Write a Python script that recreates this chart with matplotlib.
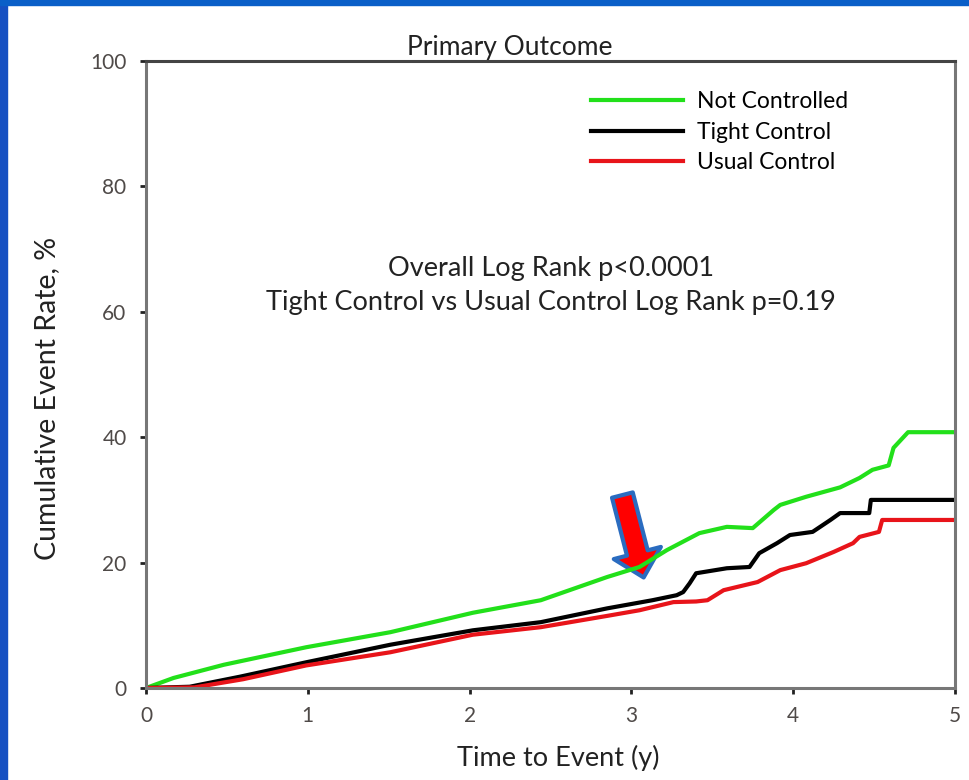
import matplotlib
matplotlib.use('Agg')
import matplotlib.pyplot as plt
from matplotlib.patches import Rectangle, FancyArrowPatch

# Kaplan-Meier style cumulative event curves (years, %)
t_not = [0, 0.17, 0.48, 0.99, 1.51, 2.02, 2.44, 2.85, 3.05, 3.22, 3.42, 3.59, 3.75, 3.88,
         3.92, 4.08, 4.29, 4.41, 4.49, 4.59, 4.62, 4.71, 5.0]
y_not = [0, 1.6, 3.7, 6.5, 8.9, 12.0, 14.0, 17.7, 19.3, 22.0, 24.7, 25.7, 25.5, 28.4,
         29.2, 30.5, 32.0, 33.5, 34.8, 35.5, 38.3, 40.8, 40.8]

t_tight = [0, 0.27, 0.58, 0.99, 1.51, 2.02, 2.44, 2.85, 3.13, 3.28, 3.32, 3.36, 3.40, 3.59,
           3.73, 3.79, 3.90, 3.98, 4.12, 4.23, 4.29, 4.47, 4.48, 5.0]
y_tight = [0, 0.2, 1.8, 4.1, 6.9, 9.2, 10.5, 12.7, 14.0, 14.8, 15.3, 16.7, 18.3, 19.1,
           19.3, 21.5, 23.1, 24.4, 24.9, 26.8, 27.9, 27.9, 30.0, 30.0]

t_usual = [0, 0.3, 0.6, 0.99, 1.51, 2.02, 2.44, 2.85, 3.05, 3.26, 3.40, 3.47, 3.57, 3.78,
           3.92, 4.08, 4.25, 4.37, 4.41, 4.53, 4.55, 5.0]
y_usual = [0, 0.1, 1.4, 3.6, 5.7, 8.5, 9.7, 11.5, 12.4, 13.7, 13.8, 14.0, 15.6, 16.9,
           18.8, 19.9, 21.7, 23.1, 24.1, 24.9, 26.8, 26.8]

xticks = [0, 1, 2, 3, 4, 5]
yticks = [0, 20, 40, 60, 80, 100]

plt.rcParams['font.family'] = ['Lato', 'DejaVu Sans']

fig = plt.figure(figsize=(9.69, 7.8), dpi=100)
fig.patch.set_facecolor('white')

# blue slide frame
fig.patches.append(Rectangle((0, 0), 7 / 969, 1, transform=fig.transFigure,
                             color='#1650c2', zorder=0))
fig.patches.append(Rectangle((0, 1 - 5 / 780), 1, 5 / 780, transform=fig.transFigure,
                             color='#0a5fc8', zorder=0))

ax = fig.add_axes([146 / 969, 1 - 688 / 780, (955 - 146) / 969, (688 - 61) / 780])

ax.plot(t_not, y_not, color='#22e01a', lw=3, label='Not Controlled')
ax.plot(t_tight, y_tight, color='black', lw=3, label='Tight Control')
ax.plot(t_usual, y_usual, color='#e8141a', lw=3, label='Usual Control')

ax.set_xlim(0, 5)
ax.set_ylim(0, 100)
ax.set_xticks(xticks)
ax.set_yticks(yticks)
ax.tick_params(labelsize=15, labelcolor='#4f4a48', color='#222222', length=4, width=2)
ax.tick_params(axis='y', pad=10)
ax.tick_params(axis='x', pad=9)
for s in ax.spines.values():
    s.set_color('#777777')
    s.set_linewidth(2.2)
ax.spines['top'].set_color('#444444')

ax.set_title('Primary Outcome', fontsize=19, color='#222222', pad=4, x=0.45)
ax.set_xlabel('Time to Event (y)', fontsize=19.5, color='#222222')
ax.xaxis.set_label_coords(0.51, -0.09)
ax.set_ylabel('Cumulative Event Rate, %', fontsize=20.5, color='#222222')
ax.yaxis.set_label_coords(-0.106, 0.4625)

ax.legend(loc='upper right', bbox_to_anchor=(0.893, 0.985), frameon=False, fontsize=16.5,
          handlelength=4.0, handletextpad=0.6, labelspacing=0.42)

ax.text(2.5, 64.2, 'Overall Log Rank p<0.0001\nTight Control vs Usual Control Log Rank p=0.19',
        ha='center', va='center', fontsize=19.5, color='#222222', linespacing=1.45)

# arrow pointing at the curves near year 3
arrow = FancyArrowPatch((2.94, 31.2), (3.08, 17.2),
                        arrowstyle='simple,head_width=2.5,head_length=1.3,tail_width=1.1',
                        mutation_scale=14, facecolor='#ff0000', edgecolor='#2a6cc0', lw=3)
ax.add_patch(arrow)

fig.savefig('out.png', dpi=100)
